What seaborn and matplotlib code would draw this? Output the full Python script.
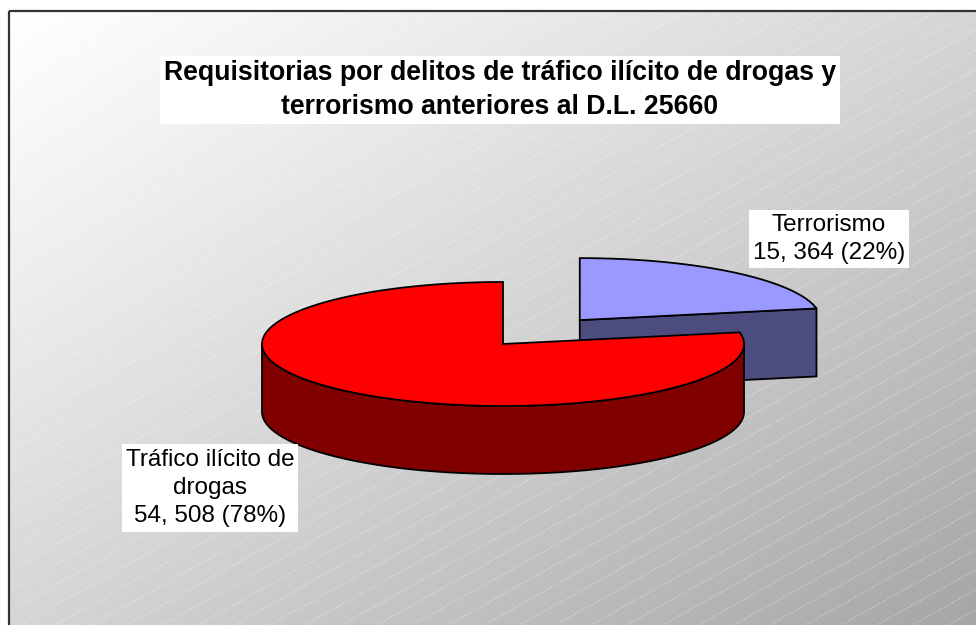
import numpy as np
import matplotlib
matplotlib.use("Agg")
import matplotlib.pyplot as plt
import seaborn as sns
from matplotlib.patches import Polygon, Rectangle

# data
categories = ["Terrorismo", "Tráfico ilícito de\ndrogas"]
values = [15364, 54508]
value_labels = ["15, 364", "54, 508"]
top_colors = ["#9999FF", "#FF0000"]
side_colors = ["#4C4C7F", "#800000"]
title = "Requisitorias por delitos de tráfico ilícito de drogas y\nterrorismo anteriores al D.L. 25660"

sns.set_theme(style="white")
plt.rcParams['font.family'] = ['Liberation Sans', 'DejaVu Sans']

W, H = 976, 625
fig = plt.figure(figsize=(W / 100, H / 100), dpi=100)
ax = fig.add_axes([0, 0, 1, 1])
ax.set_xlim(0, W)
ax.set_ylim(H, 0)
ax.axis('off')

# chart area: gradient background + thin diagonal lines
left, top = 9, 11
xx, yy = np.meshgrid(np.linspace(0, 1, 300), np.linspace(0, 1, 200))
t = (xx + yy) / 2
grad = 1 - 0.35 * t ** 1.1
ax.imshow(np.dstack([grad, grad, grad]), extent=(left, W + 2, H + 2, top),
          aspect='auto', zorder=0, interpolation='bilinear')
frame = Rectangle((left, top), W, H, fill=False, edgecolor='#333333', lw=1.6, zorder=5)
ax.add_patch(frame)
clip = Rectangle((left, top), W, H, transform=ax.transData)
slope = 0.56
for c in np.arange(top, H + slope * W + 40, 20):
    ln, = ax.plot([left, W], [c, c - slope * (W - left)], color='white', alpha=0.4,
                  lw=0.7, ls=(0, (2, 1.5)), zorder=1)
    ln.set_clip_path(clip)

# 3D pie
cx, cy = 503, 344
a, b = 241, 62
depth = 68
explode = [0.5, 0.0]
total = sum(values)
fracs = [v / total for v in values]

start = 90.0
spans = []
for f in fracs:
    end = start - 360 * f
    spans.append((end, start))
    start = end


def pt(x0, y0, ang):
    r = np.deg2rad(ang)
    return x0 + a * np.cos(r), y0 - b * np.sin(r)


def arc(x0, y0, a0, a1, n=200):
    th = np.deg2rad(np.linspace(a0, a1, n))
    return np.column_stack([x0 + a * np.cos(th), y0 - b * np.sin(th)])


centers = []
for (lo, hi), e in zip(spans, explode):
    mid = np.deg2rad((lo + hi) / 2)
    centers.append((cx + e * a * np.cos(mid), cy - e * b * np.sin(mid)))

ec = 'black'
lw = 1.3
# slice 0 (exploded): radial face at its low edge, then top
(lo, hi), (x0, y0) = spans[0], centers[0]
px, py = pt(x0, y0, lo)
face = [(x0, y0), (px, py), (px, py + depth), (x0, y0 + depth)]
ax.add_patch(Polygon(face, closed=True, fc=side_colors[0], ec=ec, lw=lw, zorder=2))
topc = np.vstack([[x0, y0], arc(x0, y0, lo, hi)])
ax.add_patch(Polygon(topc, closed=True, fc=top_colors[0], ec=ec, lw=lw, zorder=2))

# slice 1: outer side (front half), then top
(lo, hi), (x0, y0) = spans[1], centers[1]
front = arc(x0, y0, 180, 360)
side = np.vstack([front, (front + [0, depth])[::-1]])
ax.add_patch(Polygon(side, closed=True, fc=side_colors[1], ec=ec, lw=lw, zorder=3))
topc = np.vstack([[x0, y0], arc(x0, y0, lo, hi)])
ax.add_patch(Polygon(topc, closed=True, fc=top_colors[1], ec=ec, lw=lw, zorder=3))

# labels
label_pos = [(829, 239), (210, 488)]
for cat, vl, f, (lx, ly) in zip(categories, value_labels, fracs, label_pos):
    ax.text(lx, ly, f"{cat}\n{vl} ({round(f * 100)}%)", ha='center', va='center',
            fontsize=17.5, linespacing=1.38, color='black', zorder=6,
            bbox=dict(fc='white', ec='none', pad=3))

ax.text(500, 90, title, ha='center', va='center', fontsize=19.2, fontweight='bold',
        linespacing=1.38, color='black', zorder=6,
        bbox=dict(fc='white', ec='none', pad=3))

fig.savefig('out.png', dpi=100)
